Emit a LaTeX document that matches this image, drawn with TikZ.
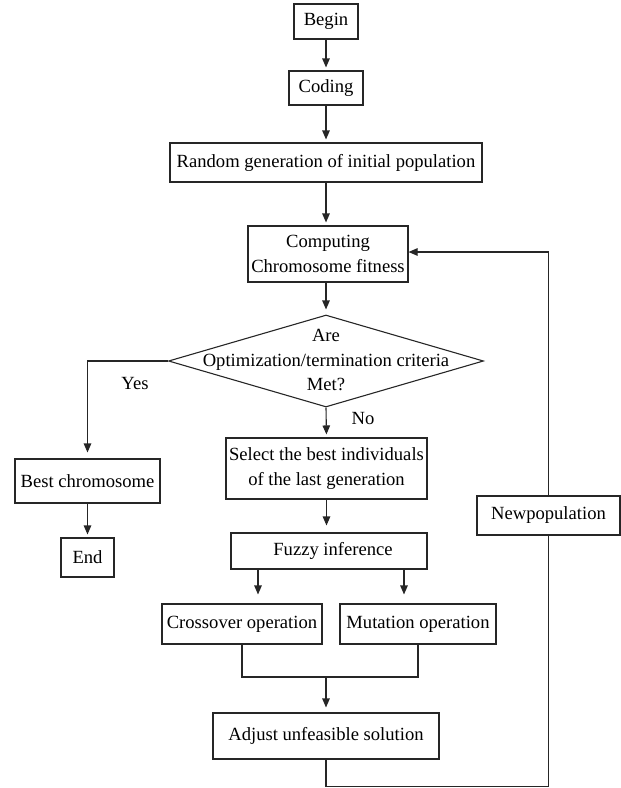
\documentclass[tikz,border=0pt]{standalone}
\usepackage{fontspec}
\setmainfont{Liberation Serif}
\usepackage{tikz}
\usetikzlibrary{arrows.meta,positioning,shapes.geometric}

\begin{document}
\begin{tikzpicture}[x=1pt,y=-1pt,line width=1.1pt,draw=black!85,
    font=\fontsize{18.6}{24.5}\selectfont,
    box/.style={draw,rectangle,align=center,inner sep=1pt},
    arr/.style={-{Triangle[length=9pt,width=7.5pt]},shorten >=3pt}]
  \useasboundingbox (0,0) rectangle (621,788);

  % main column
  \node[box,minimum width=64pt,minimum height=35pt] (begin) at (326,21.5) {Begin};
  \node[box,minimum width=74pt,minimum height=34pt] (coding) at (326,88) {Coding};
  \node[box,minimum width=312pt,minimum height=39pt] (random) at (326,162.5) {Random generation of initial population};
  \node[box,minimum width=160pt,minimum height=56pt] (computing) at (328,254) {Computing\\Chromosome fitness};
  \node[draw,diamond,minimum width=315pt,minimum height=92pt,inner sep=0pt] (test) at (326,361) {};
  \node[align=center,inner sep=0pt] (testtext) at (326,360) {Are\\Optimization/termination criteria\\Met?};
  \node[box,minimum width=201pt,minimum height=61pt] (select) at (326.5,468.5) {Select the best individuals\\of the last generation};
  \node[box,minimum width=196pt,minimum height=36pt] (fuzzy) at (329,551) {\hspace{8pt}Fuzzy inference};
  \node[box,minimum width=160pt,minimum height=40pt] (crossover) at (242,624) {Crossover operation};
  \node[box,minimum width=156pt,minimum height=40pt] (mutation) at (418,624) {Mutation operation};
  \node[box,minimum width=226pt,minimum height=46pt] (adjust) at (326,736) {Adjust unfeasible solution};

  % left and right branches
  \node[box,minimum width=145pt,minimum height=44pt] (best) at (87.5,481) {Best chromosome};
  \node[box,minimum width=53pt,minimum height=39pt] (end) at (87.5,557.5) {End};
  \node[box,minimum width=143pt,minimum height=39pt] (newpop) at (548.5,515.5) {Newpopulation};

  \node (yes) at (135,383) {Yes};
  \node (no) at (363,418) {No};

  \draw[arr] (begin) -- (coding);
  \draw[arr] (coding) -- (random);
  \draw[arr] (random.south) -- (random.south |- computing.north);
  \draw[arr,shorten >=5pt] (computing.south -| test.north) -- (test.north);
  \draw[arr,shorten >=6pt] (test.west) -| (best.north);
  \draw[arr] (best) -- (end);
  \draw[arr] (test.south) -- (select.north);
  \draw[arr,shorten >=7pt] (select.south) -- (select.south |- fuzzy.north);
  \draw[arr,shorten >=9pt] ([xshift=-71pt]fuzzy.south) -- ([xshift=-71pt]fuzzy.south |- crossover.north);
  \draw[arr,shorten >=9pt] ([xshift=75pt]fuzzy.south) -- ([xshift=75pt]fuzzy.south |- mutation.north);

  \coordinate (join) at (326,677);
  \draw (crossover.south) |- (join) -| (mutation.south);
  \draw[arr,shorten >=5pt] (join) -- (adjust.north);

  % back to fitness
  \draw (adjust.south) -- ++(0,27) -| (newpop.south);
  \draw[arr,shorten >=0pt] (newpop.north) |- ([yshift=2pt]computing.east);
\end{tikzpicture}
\end{document}
